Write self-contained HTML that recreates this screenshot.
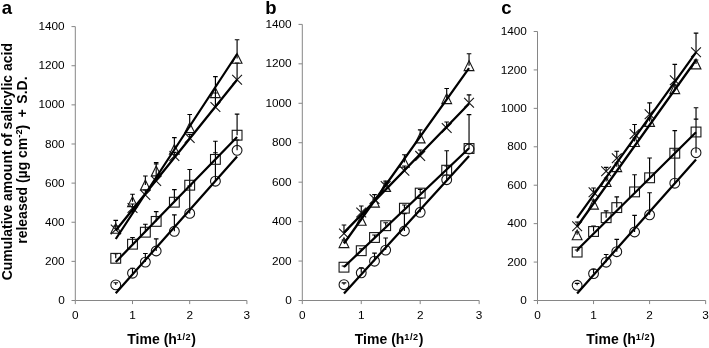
<!DOCTYPE html>
<html lang="en">
<head>
<meta charset="utf-8">
<title>Cumulative amount of salicylic acid released</title>
<style>
html,body{margin:0;padding:0;background:#fff;}
body{width:709px;height:348px;overflow:hidden;}
svg{display:block;opacity:0.999;will-change:transform;font-family:"Liberation Sans",Arial,Helvetica,sans-serif;}
.tk{font-size:11.8px;fill:#000;}
.ti{font-size:14px;font-weight:bold;fill:#000;}
.pl{font-size:18.5px;font-weight:bold;fill:#000;}
.m{fill:none;stroke:#161616;stroke-width:1.1;}
</style>
</head>
<body>
<svg width="709" height="348" viewBox="0 0 709 348">
<rect width="709" height="348" fill="#fff"/>
<text transform="translate(12 280.3) rotate(-90)" class="ti">Cumulative amount of salicylic acid</text>
<text transform="translate(26.6 243.8) rotate(-90)" class="ti">released (µg cm<tspan dy="-4.5" font-size="9.2">-2</tspan><tspan dy="4.5">)</tspan><tspan dx="3.6"> +</tspan><tspan dx="1.6"> S.D.</tspan></text>
<g id="panel-a">
<path d="M75.3 26.6V300.5H246.9" fill="none" stroke="#868686" stroke-width="1"/>
<path d="M71.5 300.5H75.3M71.5 261.37H75.3M71.5 222.24H75.3M71.5 183.11H75.3M71.5 143.99H75.3M71.5 104.86H75.3M71.5 65.73H75.3M71.5 26.6H75.3M75.3 300.5V304.1M132.5 300.5V304.1M189.7 300.5V304.1M246.9 300.5V304.1" fill="none" stroke="#868686" stroke-width="1"/>
<text x="64.7" y="304.1" text-anchor="end" class="tk">0</text>
<text x="64.7" y="264.97" text-anchor="end" class="tk">200</text>
<text x="64.7" y="225.84" text-anchor="end" class="tk">400</text>
<text x="64.7" y="186.71" text-anchor="end" class="tk">600</text>
<text x="64.7" y="147.59" text-anchor="end" class="tk">800</text>
<text x="64.7" y="108.46" text-anchor="end" class="tk">1000</text>
<text x="64.7" y="69.33" text-anchor="end" class="tk">1200</text>
<text x="64.7" y="30.2" text-anchor="end" class="tk">1400</text>
<text x="75.3" y="319.2" text-anchor="middle" class="tk">0</text>
<text x="132.5" y="319.2" text-anchor="middle" class="tk">1</text>
<text x="189.7" y="319.2" text-anchor="middle" class="tk">2</text>
<text x="246.9" y="319.2" text-anchor="middle" class="tk">3</text>
<text x="195.8" y="344" text-anchor="end" class="ti">Time (h<tspan dy="-4.5" font-size="9.2" letter-spacing="0.5">1/2</tspan><tspan dy="4.5">)</tspan></text>
<text x="1.8" y="14.2" class="pl">a</text>
<path d="M115.75 284.9V282.7M113.45 282.7H118.05M132.5 273.2V268.2M130.2 268.2H134.8M145.36 262.1V253.5M143.06 253.5H147.66M156.19 251V238.8M153.89 238.8H158.49M174.37 231.3V214.8M172.07 214.8H176.67M189.7 213.4V186M187.4 186H192M215.41 181.2V152.7M213.11 152.7H217.71M237.09 150.3V140M234.79 140H239.39M115.75 258.3V253.6M113.45 253.6H118.05M132.5 244.2V237.5M130.2 237.5H134.8M145.36 232.2V224.2M143.06 224.2H147.66M156.19 221.4V211.6M153.89 211.6H158.49M174.37 202.2V189.6M172.07 189.6H176.67M189.7 185.2V169.5M187.4 169.5H192M215.41 159.4V141.2M213.11 141.2H217.71M237.09 135.2V114.1M234.79 114.1H239.39M115.75 228.3V220.4M113.45 220.4H118.05M132.5 201.7V194.2M130.2 194.2H134.8M145.36 185V176M143.06 176H147.66M156.19 171V162.6M153.89 162.6H158.49M174.37 149.3V137.6M172.07 137.6H176.67M189.7 127.7V114.5M187.4 114.5H192M215.41 92.7V76.6M213.11 76.6H217.71M237.09 58.4V39.7M234.79 39.7H239.39M115.75 229.5V226M113.45 226H118.05M132.5 208V204M130.2 204H134.8M145.36 195V190M143.06 190H147.66M156.19 181V164M153.89 164H158.49M174.37 156V152.3M172.07 152.3H176.67M189.7 138V134.5M187.4 134.5H192M215.41 107V93M213.11 93H217.71M237.09 79.7V63M234.79 63H239.39" fill="none" stroke="#000" stroke-width="1.15"/>
<circle cx="115.75" cy="284.9" r="4.9" class="m"/>
<circle cx="132.5" cy="273.2" r="4.9" class="m"/>
<circle cx="145.36" cy="262.1" r="4.9" class="m"/>
<circle cx="156.19" cy="251" r="4.9" class="m"/>
<circle cx="174.37" cy="231.3" r="4.9" class="m"/>
<circle cx="189.7" cy="213.4" r="4.9" class="m"/>
<circle cx="215.41" cy="181.2" r="4.9" class="m"/>
<circle cx="237.09" cy="150.3" r="4.9" class="m"/>
<rect x="110.85" y="253.4" width="9.8" height="9.8" class="m"/>
<rect x="127.6" y="239.3" width="9.8" height="9.8" class="m"/>
<rect x="140.46" y="227.3" width="9.8" height="9.8" class="m"/>
<rect x="151.29" y="216.5" width="9.8" height="9.8" class="m"/>
<rect x="169.47" y="197.3" width="9.8" height="9.8" class="m"/>
<rect x="184.8" y="180.3" width="9.8" height="9.8" class="m"/>
<rect x="210.51" y="154.5" width="9.8" height="9.8" class="m"/>
<rect x="232.19" y="130.3" width="9.8" height="9.8" class="m"/>
<path d="M115.75 223.4L120.65 233.2H110.85ZM132.5 196.8L137.4 206.6H127.6ZM145.36 180.1L150.26 189.9H140.46ZM156.19 166.1L161.09 175.9H151.29ZM174.37 144.4L179.27 154.2H169.47ZM189.7 122.8L194.6 132.6H184.8ZM215.41 87.8L220.31 97.6H210.51ZM237.09 53.5L241.99 63.3H232.19ZM110.85 224.6L120.65 234.4M110.85 234.4L120.65 224.6M127.6 203.1L137.4 212.9M127.6 212.9L137.4 203.1M140.46 190.1L150.26 199.9M140.46 199.9L150.26 190.1M151.29 176.1L161.09 185.9M151.29 185.9L161.09 176.1M169.47 151.1L179.27 160.9M169.47 160.9L179.27 151.1M184.8 133.1L194.6 142.9M184.8 142.9L194.6 133.1M210.51 102.1L220.31 111.9M210.51 111.9L220.31 102.1M232.19 74.8L241.99 84.6M232.19 84.6L241.99 74.8" class="m"/>
<path d="M115.75 293.3L237.09 156.5M115.75 262L237.09 137M115.75 239L237.09 54M115.75 230.5L237.09 79.8" fill="none" stroke="#000" stroke-width="2.25" stroke-linecap="butt"/>
</g>
<g id="panel-b">
<path d="M302.3 24.4V300.5H479.15" fill="none" stroke="#868686" stroke-width="1"/>
<path d="M298.5 300.5H302.3M298.5 261.06H302.3M298.5 221.61H302.3M298.5 182.17H302.3M298.5 142.73H302.3M298.5 103.29H302.3M298.5 63.84H302.3M298.5 24.4H302.3M302.3 300.5V304.1M361.25 300.5V304.1M420.2 300.5V304.1M479.15 300.5V304.1" fill="none" stroke="#868686" stroke-width="1"/>
<text x="291.7" y="304.1" text-anchor="end" class="tk">0</text>
<text x="291.7" y="264.66" text-anchor="end" class="tk">200</text>
<text x="291.7" y="225.21" text-anchor="end" class="tk">400</text>
<text x="291.7" y="185.77" text-anchor="end" class="tk">600</text>
<text x="291.7" y="146.33" text-anchor="end" class="tk">800</text>
<text x="291.7" y="106.89" text-anchor="end" class="tk">1000</text>
<text x="291.7" y="67.44" text-anchor="end" class="tk">1200</text>
<text x="291.7" y="28" text-anchor="end" class="tk">1400</text>
<text x="302.3" y="319.2" text-anchor="middle" class="tk">0</text>
<text x="361.25" y="319.2" text-anchor="middle" class="tk">1</text>
<text x="420.2" y="319.2" text-anchor="middle" class="tk">2</text>
<text x="479.15" y="319.2" text-anchor="middle" class="tk">3</text>
<text x="423.3" y="344" text-anchor="end" class="ti">Time (h<tspan dy="-4.5" font-size="9.2" letter-spacing="0.5">1/2</tspan><tspan dy="4.5">)</tspan></text>
<text x="265.3" y="14.2" class="pl">b</text>
<path d="M343.98 284.7V282.9M341.68 282.9H346.28M361.25 272.8V267.8M358.95 267.8H363.55M374.5 261.2V253.1M372.2 253.1H376.8M385.67 250.1V238M383.37 238H387.97M404.4 231V213.6M402.1 213.6H406.7M420.2 212.3V198.4M417.9 198.4H422.5M446.7 179.7V166M444.4 166H449M469.04 149V114.6M466.74 114.6H471.34M343.98 267.2V266M341.68 266H346.28M361.25 250.7V248.7M358.95 248.7H363.55M374.5 237.5V235M372.2 235H376.8M385.67 225.7V222.7M383.37 222.7H387.97M404.4 208.2V205M402.1 205H406.7M420.2 193.1V189.5M417.9 189.5H422.5M446.7 170.2V150.7M444.4 150.7H449M469.04 148.5V114.6M466.74 114.6H471.34M343.98 242.7V240M341.68 240H346.28M361.25 220.3V216M358.95 216H363.55M374.5 202.2V199M372.2 199H376.8M385.67 186.5V183M383.37 183H387.97M404.4 162.4V154.7M402.1 154.7H406.7M420.2 138V129.8M417.9 129.8H422.5M446.7 98.7V88.5M444.4 88.5H449M469.04 65.7V53.7M466.74 53.7H471.34M343.98 233.5V225M341.68 225H346.28M361.25 212.5V206M358.95 206H363.55M374.5 199V194.6M372.2 194.6H376.8M385.67 186V181.1M383.37 181.1H387.97M404.4 170.8V166M402.1 166H406.7M420.2 155.9V150M417.9 150H422.5M446.7 128V122M444.4 122H449M469.04 102.7V94.8M466.74 94.8H471.34" fill="none" stroke="#000" stroke-width="1.15"/>
<circle cx="343.98" cy="284.7" r="4.9" class="m"/>
<circle cx="361.25" cy="272.8" r="4.9" class="m"/>
<circle cx="374.5" cy="261.2" r="4.9" class="m"/>
<circle cx="385.67" cy="250.1" r="4.9" class="m"/>
<circle cx="404.4" cy="231" r="4.9" class="m"/>
<circle cx="420.2" cy="212.3" r="4.9" class="m"/>
<circle cx="446.7" cy="179.7" r="4.9" class="m"/>
<circle cx="469.04" cy="149" r="4.9" class="m"/>
<rect x="339.08" y="262.3" width="9.8" height="9.8" class="m"/>
<rect x="356.35" y="245.8" width="9.8" height="9.8" class="m"/>
<rect x="369.6" y="232.6" width="9.8" height="9.8" class="m"/>
<rect x="380.77" y="220.8" width="9.8" height="9.8" class="m"/>
<rect x="399.5" y="203.3" width="9.8" height="9.8" class="m"/>
<rect x="415.3" y="188.2" width="9.8" height="9.8" class="m"/>
<rect x="441.8" y="165.3" width="9.8" height="9.8" class="m"/>
<rect x="464.14" y="143.6" width="9.8" height="9.8" class="m"/>
<path d="M343.98 237.8L348.88 247.6H339.08ZM361.25 215.4L366.15 225.2H356.35ZM374.5 197.3L379.4 207.1H369.6ZM385.67 181.6L390.57 191.4H380.77ZM404.4 157.5L409.3 167.3H399.5ZM420.2 133.1L425.1 142.9H415.3ZM446.7 93.8L451.6 103.6H441.8ZM469.04 60.8L473.94 70.6H464.14ZM339.08 228.6L348.88 238.4M339.08 238.4L348.88 228.6M356.35 207.6L366.15 217.4M356.35 217.4L366.15 207.6M369.6 194.1L379.4 203.9M369.6 203.9L379.4 194.1M380.77 181.1L390.57 190.9M380.77 190.9L390.57 181.1M399.5 165.9L409.3 175.7M399.5 175.7L409.3 165.9M415.3 151L425.1 160.8M415.3 160.8L425.1 151M441.8 123.1L451.6 132.9M441.8 132.9L451.6 123.1M464.14 97.8L473.94 107.6M464.14 107.6L473.94 97.8" class="m"/>
<path d="M343.98 293.4L469.04 156M343.98 267L469.04 148.3M343.98 243.5L469.04 68.2M343.98 232.6L469.04 103.8" fill="none" stroke="#000" stroke-width="2.25" stroke-linecap="butt"/>
</g>
<g id="panel-c">
<path d="M537.5 31.5V300.5H705.65" fill="none" stroke="#868686" stroke-width="1"/>
<path d="M533.7 300.5H537.5M533.7 262.07H537.5M533.7 223.64H537.5M533.7 185.21H537.5M533.7 146.79H537.5M533.7 108.36H537.5M533.7 69.93H537.5M533.7 31.5H537.5M537.5 300.5V304.1M593.55 300.5V304.1M649.6 300.5V304.1M705.65 300.5V304.1" fill="none" stroke="#868686" stroke-width="1"/>
<text x="526.9" y="304.1" text-anchor="end" class="tk">0</text>
<text x="526.9" y="265.67" text-anchor="end" class="tk">200</text>
<text x="526.9" y="227.24" text-anchor="end" class="tk">400</text>
<text x="526.9" y="188.81" text-anchor="end" class="tk">600</text>
<text x="526.9" y="150.39" text-anchor="end" class="tk">800</text>
<text x="526.9" y="111.96" text-anchor="end" class="tk">1000</text>
<text x="526.9" y="73.53" text-anchor="end" class="tk">1200</text>
<text x="526.9" y="35.1" text-anchor="end" class="tk">1400</text>
<text x="537.5" y="319.2" text-anchor="middle" class="tk">0</text>
<text x="593.55" y="319.2" text-anchor="middle" class="tk">1</text>
<text x="649.6" y="319.2" text-anchor="middle" class="tk">2</text>
<text x="705.65" y="319.2" text-anchor="middle" class="tk">3</text>
<text x="654.8" y="344" text-anchor="end" class="ti">Time (h<tspan dy="-4.5" font-size="9.2" letter-spacing="0.5">1/2</tspan><tspan dy="4.5">)</tspan></text>
<text x="501.3" y="14.2" class="pl">c</text>
<path d="M577.13 285.3V283.3M574.83 283.3H579.43M593.55 273.6V269.2M591.25 269.2H595.85M606.15 262.2V254.5M603.85 254.5H608.45M616.77 251.7V239.4M614.47 239.4H619.07M634.58 232V215.4M632.28 215.4H636.88M649.6 214.8V192.7M647.3 192.7H651.9M674.79 183.2V150M672.49 150H677.09M696.03 152.7V119.1M693.73 119.1H698.33M577.13 252.1V250M574.83 250H579.43M593.55 231.5V226M591.25 226H595.85M606.15 217.7V210.9M603.85 210.9H608.45M616.77 207.6V196.8M614.47 196.8H619.07M634.58 191.9V174.7M632.28 174.7H636.88M649.6 177.8V158M647.3 158H651.9M674.79 153.2V130.6M672.49 130.6H677.09M696.03 132V107.7M693.73 107.7H698.33M577.13 234.8V232M574.83 232H579.43M593.55 204.2V200M591.25 200H595.85M606.15 181.6V178M603.85 178H608.45M616.77 166.7V163M614.47 163H619.07M634.58 141.6V138M632.28 138H636.88M649.6 121.5V118M647.3 118H651.9M674.79 88.7V85M672.49 85H677.09M696.03 64V60M693.73 60H698.33M577.13 226.3V222M574.83 222H579.43M593.55 192.2V188M591.25 188H595.85M606.15 171.2V167.3M603.85 167.3H608.45M616.77 158.3V151.2M614.47 151.2H619.07M634.58 134.1V124.5M632.28 124.5H636.88M649.6 114.3V102.9M647.3 102.9H651.9M674.79 80.2V64.4M672.49 64.4H677.09M696.03 52.2V33.1M693.73 33.1H698.33" fill="none" stroke="#000" stroke-width="1.15"/>
<circle cx="577.13" cy="285.3" r="4.9" class="m"/>
<circle cx="593.55" cy="273.6" r="4.9" class="m"/>
<circle cx="606.15" cy="262.2" r="4.9" class="m"/>
<circle cx="616.77" cy="251.7" r="4.9" class="m"/>
<circle cx="634.58" cy="232" r="4.9" class="m"/>
<circle cx="649.6" cy="214.8" r="4.9" class="m"/>
<circle cx="674.79" cy="183.2" r="4.9" class="m"/>
<circle cx="696.03" cy="152.7" r="4.9" class="m"/>
<rect x="572.23" y="247.2" width="9.8" height="9.8" class="m"/>
<rect x="588.65" y="226.6" width="9.8" height="9.8" class="m"/>
<rect x="601.25" y="212.8" width="9.8" height="9.8" class="m"/>
<rect x="611.87" y="202.7" width="9.8" height="9.8" class="m"/>
<rect x="629.68" y="187" width="9.8" height="9.8" class="m"/>
<rect x="644.7" y="172.9" width="9.8" height="9.8" class="m"/>
<rect x="669.89" y="148.3" width="9.8" height="9.8" class="m"/>
<rect x="691.13" y="127.1" width="9.8" height="9.8" class="m"/>
<path d="M577.13 229.9L582.03 239.7H572.23ZM593.55 199.3L598.45 209.1H588.65ZM606.15 176.7L611.05 186.5H601.25ZM616.77 161.8L621.67 171.6H611.87ZM634.58 136.7L639.48 146.5H629.68ZM649.6 116.6L654.5 126.4H644.7ZM674.79 83.8L679.69 93.6H669.89ZM696.03 59.1L700.93 68.9H691.13ZM572.23 221.4L582.03 231.2M572.23 231.2L582.03 221.4M588.65 187.3L598.45 197.1M588.65 197.1L598.45 187.3M601.25 166.3L611.05 176.1M601.25 176.1L611.05 166.3M611.87 153.4L621.67 163.2M611.87 163.2L621.67 153.4M629.68 129.2L639.48 139M629.68 139L639.48 129.2M644.7 109.4L654.5 119.2M644.7 119.2L654.5 109.4M669.89 75.3L679.69 85.1M669.89 85.1L679.69 75.3M691.13 47.3L700.93 57.1M691.13 57.1L700.93 47.3" class="m"/>
<path d="M577.13 293.4L696.03 159.4M577.13 250L696.03 132.2M577.13 226.5L696.03 60M577.13 217.8L696.03 52.3" fill="none" stroke="#000" stroke-width="2.25" stroke-linecap="butt"/>
</g>
</svg>
</body>
</html>
